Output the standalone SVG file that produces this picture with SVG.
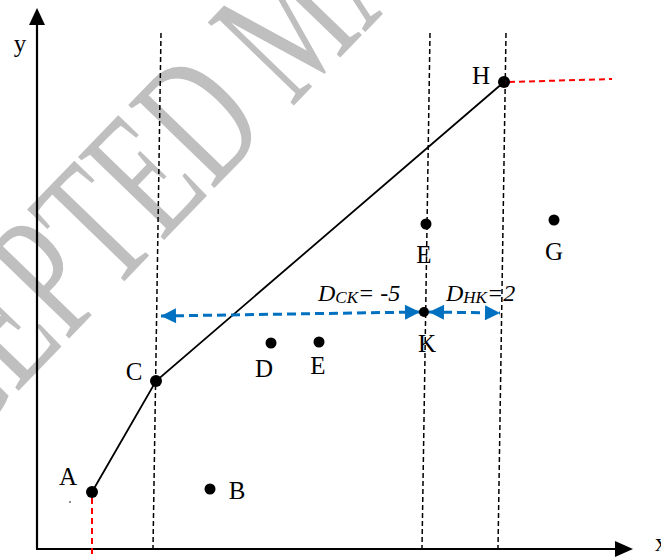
<svg xmlns="http://www.w3.org/2000/svg" width="661" height="558" viewBox="0 0 661 558">
<style>
.lbl{font-family:"Liberation Serif","Times New Roman",serif;font-size:25px;fill:#000;text-anchor:middle}
.it{font-family:"Liberation Serif","Times New Roman",serif;font-style:italic;fill:#000}
.guide{stroke:#000;stroke-width:1.5;stroke-dasharray:5 3;fill:none}
.red{stroke:#ff0000;stroke-width:2;stroke-dasharray:6 4;fill:none}
.blue{stroke:#0070c0;stroke-width:3;stroke-dasharray:9 5;fill:none}
.dot{fill:#000}
.axis{stroke:#000;stroke-width:2.2;fill:none}
</style>
<defs>
<marker id="bh" viewBox="0 0 10 10" refX="10" refY="5" markerWidth="5.5" markerHeight="5" markerUnits="strokeWidth" orient="auto-start-reverse">
<path d="M0,0 L10,5 L0,10 Z" fill="#0070c0"/>
</marker>
</defs>
<rect width="661" height="558" fill="#fff"/>
<g id="watermark" transform="translate(198,118) rotate(-46) scale(1,1.55)">
<text x="-567" y="39" font-family="Liberation Serif,Times New Roman,serif" font-size="118" fill="#bfbfbf">ACCEPTED MANUSCRIPT</text>
</g>
<g id="axes">
<line class="axis" x1="37" y1="549" x2="37" y2="22"/>
<path d="M37,8 L29,25 L45,25 Z" fill="#000"/>
<line class="axis" x1="36" y1="549" x2="618" y2="549"/>
<path d="M633,549 L615,541 L615,557 Z" fill="#000"/>
<text class="lbl" x="20" y="52">y</text>
<text class="lbl" x="655" y="551" style="text-anchor:start">x</text>
</g>
<g id="connectors">
<line class="guide" x1="161" y1="33" x2="153" y2="548"/>
<line class="guide" x1="430" y1="33" x2="422" y2="548"/>
<line class="guide" x1="506" y1="33" x2="498" y2="548"/>
<line class="red" x1="92" y1="498" x2="92" y2="555"/>
<line class="red" x1="509" y1="82" x2="612" y2="79"/>
<polyline points="92,492 156,381 504,82" fill="none" stroke="#000" stroke-width="1.8"/>
<line class="blue" x1="161" y1="316" x2="420" y2="312" marker-start="url(#bh)" marker-end="url(#bh)"/>
<line class="blue" x1="429" y1="312" x2="500" y2="313" marker-start="url(#bh)" marker-end="url(#bh)"/>
</g>
<g id="A"><circle class="dot" cx="92" cy="492" r="6"/><circle class="dot" cx="70" cy="502" r="0.8"/><text class="lbl" x="68" y="485">A</text></g>
<g id="B"><circle class="dot" cx="210" cy="489" r="5.5"/><text class="lbl" x="237" y="499">B</text></g>
<g id="C"><circle class="dot" cx="156" cy="381" r="6"/><text class="lbl" x="134" y="380">C</text></g>
<g id="D"><circle class="dot" cx="271" cy="343" r="5.5"/><text class="lbl" x="264" y="377">D</text></g>
<g id="E1"><circle class="dot" cx="319" cy="342" r="5.5"/><text class="lbl" x="318" y="374">E</text></g>
<g id="E2"><circle class="dot" cx="426" cy="224" r="5.5"/><text class="lbl" x="424" y="263">E</text></g>
<g id="G"><circle class="dot" cx="554" cy="220" r="5.5"/><text class="lbl" x="554" y="260">G</text></g>
<g id="H"><circle class="dot" cx="504" cy="82" r="6"/><text class="lbl" x="481" y="84">H</text></g>
<g id="K"><circle class="dot" cx="424" cy="312" r="5"/><text class="lbl" x="427" y="352">K</text></g>
<g id="labels">
<text class="it" x="318" y="301" font-size="24">D<tspan font-size="17" dy="2">CK</tspan><tspan dy="-2">= -5</tspan></text>
<text class="it" x="446" y="301" font-size="24">D<tspan font-size="17" dy="2">HK</tspan><tspan dy="-2">=2</tspan></text>
</g>
</svg>
